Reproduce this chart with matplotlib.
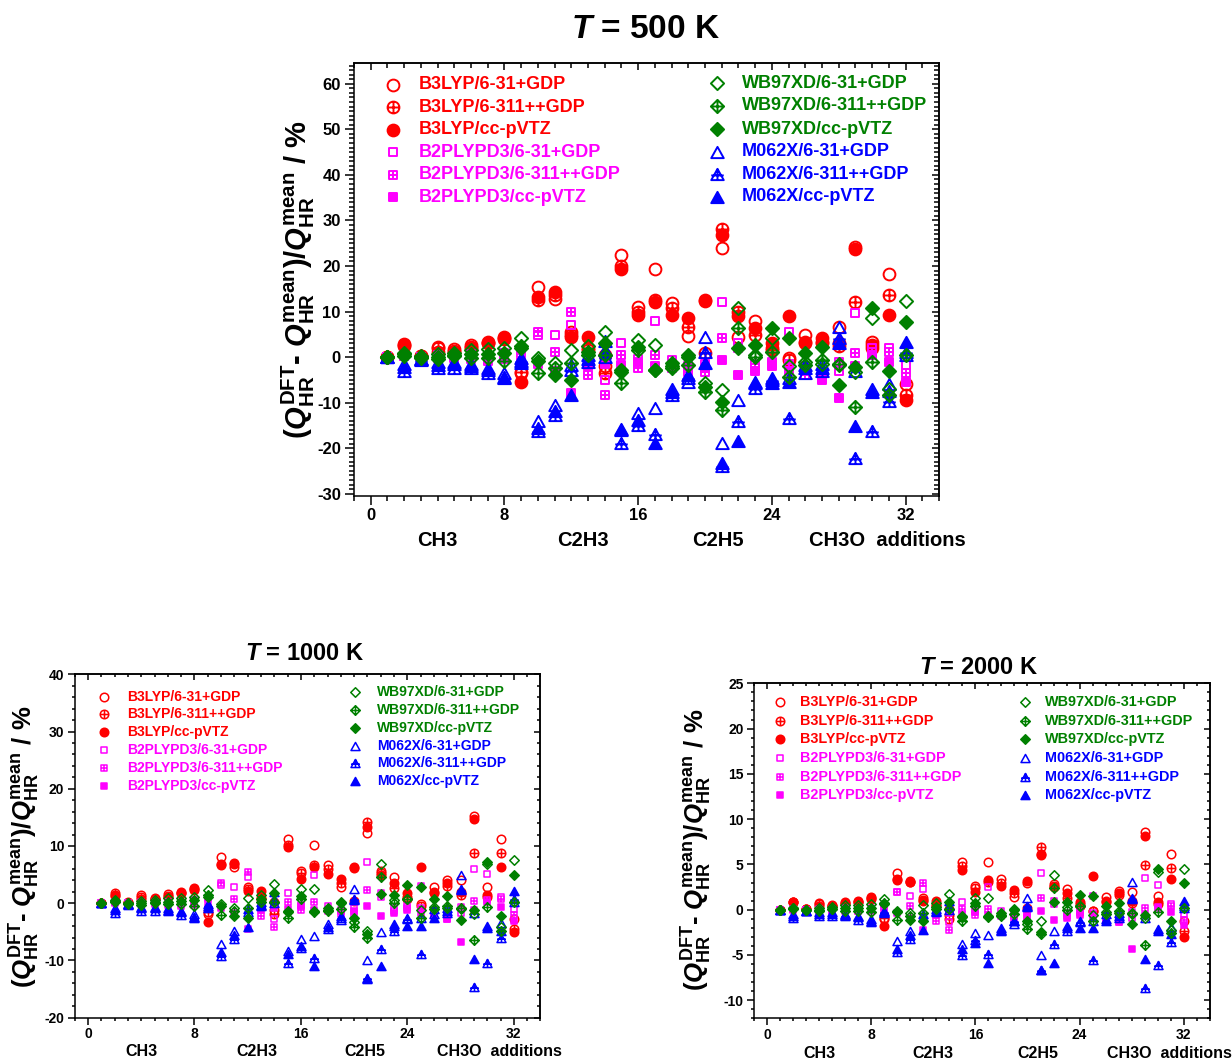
import matplotlib
matplotlib.use("Agg")
import matplotlib.pyplot as plt
from matplotlib.path import Path
from matplotlib.ticker import MultipleLocator
from matplotlib.transforms import blended_transform_factory

plt.rcParams['font.family'] = ['Liberation Sans', 'DejaVu Sans']
plt.rcParams['font.weight'] = 'bold'
plt.rcParams['axes.unicode_minus'] = False
plt.rcParams['mathtext.fontset'] = 'custom'
plt.rcParams['mathtext.rm'] = 'Liberation Sans:bold'
plt.rcParams['mathtext.it'] = 'Liberation Sans:italic:bold'
plt.rcParams['mathtext.bf'] = 'Liberation Sans:bold'

# ---------------------------------------------------------------- data
reactions = list(range(1, 33))
series_names = [
    'B3LYP/6-31+GDP', 'B3LYP/6-311++GDP', 'B3LYP/cc-pVTZ',
    'B2PLYPD3/6-31+GDP', 'B2PLYPD3/6-311++GDP', 'B2PLYPD3/cc-pVTZ',
    'WB97XD/6-31+GDP', 'WB97XD/6-311++GDP', 'WB97XD/cc-pVTZ',
    'M062X/6-31+GDP', 'M062X/6-311++GDP', 'M062X/cc-pVTZ',
]
group_labels = ['CH3', 'C2H3', 'C2H5', 'CH3O  additions']

# T = 500 K
t500_b3lyp_631 = [0, 2.4, 0.3, 2.3, 1.7, 2.7, 3.4, 4.5, -3.6, 15.4, 12.8, 5.5, 1.5, -2.0, 22.3, 11.0, 19.4, 11.8, 4.7, 12.2, 23.9, 4.5, 7.9, 2.0, -0.3, 4.8, 3.4, 6.6, 24.2, 3.4, 18.3, -6.0]
t500_b3lyp_6311 = [0, 2.8, 0.2, 1.9, 1.4, 2.2, 3.0, 4.0, -3.2, 12.5, 13.6, 4.8, 1.9, -3.6, 20.0, 10.0, 12.5, 10.8, 6.6, 0.8, 28.1, 9.9, 4.8, 1.5, -0.7, 3.0, 3.0, 2.5, 12.1, 2.0, 13.7, -8.3]
t500_b3lyp_cc = [0, 2.6, 0.2, 1.2, 1.2, 1.9, 3.1, 4.2, -5.4, 13.2, 14.3, 4.5, 4.5, 0.4, 19.4, 9.3, 12.1, 9.3, 8.5, 12.5, 26.7, 9.0, 6.3, 3.0, 9.1, 3.4, 4.1, 3.0, 23.8, 2.6, 9.2, -9.4]
t500_b2plyp_631 = [0, 0.5, 0.1, 0.5, 0.4, 0.6, 0.3, 0.8, 1.5, 4.8, 4.8, 7.0, -1.5, -5.0, 3.0, -0.5, 7.9, -0.7, -2.5, -1.5, 12.1, 3.0, -1.5, -1.5, 5.5, -3.0, -3.2, -3.0, 9.6, 1.9, 1.9, -1.7]
t500_b2plyp_6311 = [0, 0.2, 0.0, 0.1, 0.0, 0.1, -0.4, 0.0, 0.8, 5.5, 1.2, 9.9, -4.0, -8.3, 0.4, -2.5, 0.4, -2.0, -3.2, -3.2, 4.1, 2.0, -2.5, -1.0, -1.5, -4.0, -4.7, -1.0, 0.8, 1.0, 1.2, -3.5]
t500_b2plyp_cc = [0, 0.3, 0.0, -0.2, -0.2, -0.5, -0.8, -0.5, -1.0, -1.5, -3.0, -8.0, -2.0, -1.5, -1.8, -1.0, -2.0, -2.5, -2.0, -2.5, -0.7, -3.9, -3.0, -2.0, -3.0, -2.0, -5.0, -9.1, -2.0, 0.5, -1.0, -5.5]
t500_wb97xd_631 = [0, 0.8, 0.2, 0.6, 0.9, 1.6, 1.8, 1.9, 4.1, -0.3, -1.4, 1.5, 2.5, 5.5, -3.2, 3.7, 2.6, -2.0, 0.0, -5.8, -7.2, 10.8, 0.4, 4.1, -2.0, -1.0, -1.5, -1.8, -3.2, 8.5, -7.0, 12.2]
t500_wb97xd_6311 = [0, 0.3, -0.2, -0.5, 0.2, -0.2, -0.3, -0.8, 2.4, -3.6, -2.4, -1.4, 0.5, 0.4, -5.8, 1.5, -2.8, -2.5, -1.8, -7.6, -11.6, 6.4, 0.0, 1.2, -4.3, -1.8, -0.7, -1.5, -10.9, -1.0, -8.3, 0.5]
t500_wb97xd_cc = [0, 0.6, 0.1, 0.0, 0.4, 0.6, 0.7, 0.8, 1.9, -0.8, -3.9, -5.0, 1.2, 3.0, -2.8, 2.3, -2.8, -1.4, 0.4, -6.6, -9.8, 2.0, 2.6, 6.3, 4.1, 0.8, 2.3, -6.1, -2.1, 10.7, -3.1, 7.8]
t500_m062x_631 = [0, -1.5, -0.4, -1.0, -1.1, -1.6, -2.4, -3.4, -0.2, -14.1, -10.5, -1.8, 0.5, 3.5, -15.8, -12.3, -11.2, -7.0, -5.4, 4.5, -18.9, -9.4, -5.4, -4.5, -4.5, -3.5, -1.5, 6.6, -3.0, -7.0, -6.0, 0.5]
t500_m062x_6311 = [0, -3.0, -0.6, -2.4, -2.3, -2.4, -3.6, -4.6, -0.9, -16.3, -12.7, -2.8, -1.0, 0.0, -18.9, -14.9, -17.0, -8.3, -4.7, 1.2, -24.0, -14.1, -6.9, -5.0, -13.4, -1.8, -3.0, 4.1, -22.1, -16.3, -9.7, 1.2]
t500_m062x_cc = [0, -2.2, -0.4, -1.7, -1.5, -2.0, -2.8, -4.3, -1.4, -15.6, -11.8, -8.3, -0.5, 1.5, -16.0, -13.8, -18.9, -7.6, -4.0, -1.4, -23.2, -18.5, -5.8, -5.8, -5.4, -2.5, -2.5, 3.0, -15.2, -7.6, -7.5, 3.4]

# T = 1000 K
t1000_b3lyp_631 = [0, 1.5, 0.2, 1.4, 1.0, 1.6, 2.0, 2.7, -1.8, 8.1, 6.4, 2.8, 0.8, -1.1, 11.3, 5.7, 10.1, 6.6, 2.8, 6.2, 12.2, 5.7, 4.6, 1.1, -0.2, 2.8, 4.1, 4.0, 15.2, 2.8, 11.3, -2.7]
t1000_b3lyp_6311 = [0, 1.7, 0.1, 1.1, 0.8, 1.3, 1.7, 2.3, -1.6, 6.6, 6.8, 2.4, 1.0, -1.9, 10.2, 5.2, 6.6, 5.9, 3.6, 0.4, 14.2, 5.3, 2.6, 0.8, -0.4, 1.7, 3.0, 1.4, 8.7, 1.1, 8.7, -4.5]
t1000_b3lyp_cc = [0, 1.2, 0.1, 0.7, 0.7, 1.1, 1.8, 2.5, -3.2, 6.9, 7.0, 2.2, 2.2, 0.2, 9.8, 4.3, 6.3, 5.1, 4.3, 6.3, 13.3, 5.0, 3.5, 1.7, 6.3, 1.9, 3.5, 2.0, 14.8, 1.5, 6.3, -5.1]
t1000_b2plyp_631 = [0, 0.3, 0.0, 0.3, 0.2, 0.3, 0.2, 0.5, 0.9, 3.1, 2.8, 4.6, -0.8, -2.7, 1.8, -0.3, 4.9, -0.4, -1.4, -0.8, 7.2, 1.8, -0.8, -0.8, 3.0, -1.7, -1.8, -1.7, 6.0, 5.1, 1.1, -1.0]
t1000_b2plyp_6311 = [0, 0.1, 0.0, 0.0, 0.0, 0.0, -0.2, 0.0, 0.5, 3.5, 0.7, 5.4, -2.3, -4.2, 0.2, -1.2, 0.2, -1.1, -1.8, -1.8, 2.3, 1.1, -1.4, -0.5, -0.8, -2.2, -2.7, -0.6, 0.4, 0.6, 0.7, -2.0]
t1000_b2plyp_cc = [0, 0.2, 0.0, -0.1, -0.1, -0.3, -0.5, -0.3, -0.6, -0.8, -1.7, -4.5, -1.1, -0.8, -1.0, -0.5, -1.1, -1.4, -1.1, -1.4, -0.4, -2.2, -1.7, -1.1, -1.7, -1.1, -2.8, -6.8, -1.1, 0.3, -0.6, -3.1]
t1000_wb97xd_631 = [0, 0.5, 0.1, 0.4, 0.5, 0.9, 1.0, 1.1, 2.3, -0.2, -0.8, 0.9, 1.4, 3.4, -1.6, 2.5, 2.5, -1.1, 0.0, -3.2, -4.8, 6.9, 0.5, 0.8, -1.1, -0.6, -0.8, -1.0, -1.8, 6.9, -4.2, 7.5]
t1000_wb97xd_6311 = [0, 0.2, -0.1, -0.3, 0.1, -0.1, -0.2, -0.5, 1.4, -2.0, -1.4, -0.8, 0.3, 0.2, -2.5, 0.8, -1.5, -1.4, -1.0, -4.1, -6.0, 4.6, 0.0, 0.7, -2.5, -1.0, -0.4, -0.8, -6.5, -0.6, -4.8, 0.3]
t1000_wb97xd_cc = [0, 0.4, 0.0, 0.0, 0.2, 0.3, 0.4, 0.5, 1.1, -0.5, -2.2, -2.5, 0.7, 1.7, -1.4, 1.3, -1.3, -0.8, 0.2, -2.5, -5.4, 1.6, 1.5, 3.1, 2.8, 0.8, 1.3, -3.0, -1.2, 7.2, -2.2, 4.9]
t1000_m062x_631 = [0, -0.8, -0.2, -0.6, -0.6, -0.9, -1.3, -1.9, -0.1, -7.1, -4.8, -1.0, 0.3, 1.9, -8.3, -6.3, -5.7, -3.7, -3.0, 2.5, -10.0, -5.1, -3.6, -2.5, -2.5, -1.9, -0.8, 4.9, -1.7, -3.9, -3.4, 0.3]
t1000_m062x_6311 = [0, -1.7, -0.3, -1.3, -1.3, -1.3, -2.0, -2.6, -0.5, -9.2, -6.3, -1.6, -0.5, 0.0, -10.4, -7.9, -9.5, -4.5, -2.6, 0.7, -13.0, -8.0, -4.8, -2.8, -8.9, -1.0, -1.7, 2.3, -14.7, -10.4, -6.0, 0.7]
t1000_m062x_cc = [0, -1.2, -0.2, -0.9, -0.8, -1.1, -1.6, -2.4, -0.8, -8.6, -5.6, -4.2, -0.3, 0.8, -8.8, -7.4, -10.9, -4.2, -2.2, 0.5, -13.3, -10.9, -3.9, -3.9, -3.9, -2.5, -1.4, 2.5, -9.8, -4.3, -4.8, 2.2]

# T = 2000 K
t2000_b3lyp_631 = [0, 0.8, 0.1, 0.7, 0.5, 0.8, 1.0, 1.4, -1.0, 4.0, 3.1, 1.3, 0.4, -0.6, 5.3, 2.6, 5.3, 3.4, 1.4, 3.0, 6.0, 2.8, 2.3, 0.6, -0.1, 1.4, 2.1, 2.0, 8.6, 1.5, 6.2, -1.3]
t2000_b3lyp_6311 = [0, 0.9, 0.1, 0.6, 0.4, 0.7, 0.9, 1.2, -0.9, 3.4, 3.2, 1.1, 0.5, -1.0, 4.8, 2.4, 3.1, 3.0, 1.8, 0.2, 6.9, 2.6, 1.3, 0.4, -0.2, 0.9, 1.6, 0.7, 4.9, 0.6, 4.6, -2.4]
t2000_b3lyp_cc = [0, 0.8, 0.1, 0.4, 0.4, 0.6, 0.9, 1.3, -1.8, 3.3, 3.1, 1.0, 1.0, 0.1, 4.4, 2.0, 3.3, 2.6, 2.2, 3.2, 6.2, 2.5, 1.8, 0.9, 3.7, 1.0, 1.8, 1.0, 8.1, 0.8, 3.4, -3.0]
t2000_b2plyp_631 = [0, 0.1, 0.0, 0.1, 0.1, 0.2, 0.1, 0.2, 0.5, 1.9, 1.5, 2.3, -0.4, -1.4, 0.9, -0.2, 2.5, -0.2, -0.7, -0.4, 4.0, 1.0, -0.4, -0.4, 1.5, -0.9, -0.9, -0.9, 3.5, 2.7, 0.6, -0.5]
t2000_b2plyp_6311 = [0, 0.0, 0.0, 0.0, 0.0, 0.0, -0.1, 0.0, 0.3, 2.0, 0.4, 2.9, -1.2, -2.2, 0.1, -0.6, 0.1, -0.6, -0.9, -0.9, 1.3, 0.6, -0.7, -0.3, -0.4, -1.1, -1.4, -0.3, 0.2, 0.3, 0.4, -1.1]
t2000_b2plyp_cc = [0, 0.1, 0.0, -0.1, -0.1, -0.2, -0.2, -0.2, -0.3, -0.4, -0.9, -2.2, -0.6, -0.4, -0.5, -0.3, -0.6, -0.7, -0.6, -0.7, -0.2, -1.1, -0.9, -0.6, -0.9, -0.6, -1.4, -4.3, -0.6, 0.2, -0.3, -1.7]
t2000_wb97xd_631 = [0, 0.2, 0.0, 0.2, 0.3, 0.5, 0.5, 0.6, 1.2, -0.1, -0.4, 0.5, 0.7, 1.7, -0.8, 1.3, 1.3, -0.6, 0.0, -1.6, -1.3, 3.8, 0.3, 0.4, -0.6, -0.3, -0.4, -0.5, -0.9, 4.2, -2.2, 4.5]
t2000_wb97xd_6311 = [0, 0.1, 0.0, -0.2, 0.1, -0.1, -0.1, -0.3, 0.7, -1.1, -0.7, -0.4, 0.1, 0.1, -1.3, 0.4, -0.8, -0.7, -0.5, -2.1, -2.7, 2.4, 0.0, 0.4, -1.3, -0.5, -0.2, -0.4, -3.9, -0.3, -2.6, 0.2]
t2000_wb97xd_cc = [0, 0.2, 0.0, 0.0, 0.1, 0.2, 0.2, 0.2, 0.6, -0.3, -1.1, -1.3, 0.3, 0.8, -0.7, 0.7, -0.7, -0.4, 0.1, -1.3, -2.5, 0.8, 0.8, 1.6, 1.5, 0.4, 0.7, -1.6, -0.6, 4.5, -1.2, 2.9]
t2000_m062x_631 = [0, -0.5, -0.1, -0.3, -0.3, -0.5, -0.7, -1.0, -0.1, -3.5, -2.3, -0.5, 0.1, 1.0, -3.8, -2.6, -2.8, -2.0, -1.6, 1.3, -5.0, -2.3, -1.8, -1.3, -1.3, -1.0, -0.4, 3.1, -0.9, -2.1, -1.9, 0.2]
t2000_m062x_6311 = [0, -0.9, -0.2, -0.7, -0.7, -0.7, -1.1, -1.4, -0.3, -4.7, -3.2, -0.8, -0.3, 0.0, -5.0, -3.4, -4.9, -2.4, -1.3, 0.4, -6.7, -3.8, -2.4, -1.4, -5.6, -0.5, -0.9, 1.2, -8.7, -6.1, -3.6, 0.4]
t2000_m062x_cc = [0, -0.7, -0.1, -0.5, -0.5, -0.6, -0.8, -1.3, -0.4, -4.3, -2.8, -2.2, -0.2, 0.4, -4.3, -3.7, -5.9, -2.2, -1.2, 0.3, -6.7, -5.9, -2.0, -2.0, -2.0, -1.3, -0.7, 1.3, -5.4, -2.3, -2.7, 1.0]

t500_series = [t500_b3lyp_631, t500_b3lyp_6311, t500_b3lyp_cc,
               t500_b2plyp_631, t500_b2plyp_6311, t500_b2plyp_cc,
               t500_wb97xd_631, t500_wb97xd_6311, t500_wb97xd_cc,
               t500_m062x_631, t500_m062x_6311, t500_m062x_cc]
t1000_series = [t1000_b3lyp_631, t1000_b3lyp_6311, t1000_b3lyp_cc,
                t1000_b2plyp_631, t1000_b2plyp_6311, t1000_b2plyp_cc,
                t1000_wb97xd_631, t1000_wb97xd_6311, t1000_wb97xd_cc,
                t1000_m062x_631, t1000_m062x_6311, t1000_m062x_cc]
t2000_series = [t2000_b3lyp_631, t2000_b3lyp_6311, t2000_b3lyp_cc,
                t2000_b2plyp_631, t2000_b2plyp_6311, t2000_b2plyp_cc,
                t2000_wb97xd_631, t2000_wb97xd_6311, t2000_wb97xd_cc,
                t2000_m062x_631, t2000_m062x_6311, t2000_m062x_cc]

# ---------------------------------------------------------------- marker shapes
M, L, C = Path.MOVETO, Path.LINETO, Path.CLOSEPOLY
cross = Path([(-1, 0), (1, 0), (0, -1), (0, 1)], [M, L, M, L])
circle = Path.unit_circle()
square = Path([(-1, -1), (1, -1), (1, 1), (-1, 1), (-1, -1)], [M, L, L, L, C])
diamond = Path([(0, 1), (1, 0), (0, -1), (-1, 0), (0, 1)], [M, L, L, L, C])
triangle = Path([(0, 0.9), (-1, -0.9), (1, -0.9), (0, 0.9)], [M, L, L, C])
tri_lines = Path([(0, 0.9), (0, -1.0), (-1.0, -0.15), (1.0, -0.15)], [M, L, M, L])

shapes = {
    'circle': (circle, Path.make_compound_path(circle, cross)),
    'square': (square, Path.make_compound_path(square, cross)),
    'diamond': (diamond, Path.make_compound_path(diamond, cross)),
    'triangle': (triangle, Path.make_compound_path(triangle, tri_lines)),
}
group_shape = ['circle', 'square', 'diamond', 'triangle']
group_color = ['#FF0000', '#FF00FF', '#008000', '#0000FF']
base_size = {'circle': 8.5, 'square': 6.3, 'diamond': 9.5, 'triangle': 9.0}
draw_order = [0, 1, 2, 3, 4, 5, 9, 10, 11, 6, 7, 8]


def series_style(i):
    g, variant = divmod(i, 3)   # variant: 0 open, 1 crossed, 2 filled
    shape = group_shape[g]
    plain, crossed = shapes[shape]
    marker = crossed if variant == 1 else plain
    face = group_color[g] if variant == 2 else 'none'
    return marker, face, group_color[g], base_size[shape]


def plot_marker(ax, x, y, i, scale, mew, **kw):
    marker, face, col, size = series_style(i)
    ax.plot(x, y, linestyle='none', marker=marker, markersize=size * scale,
            markerfacecolor=face, markeredgecolor=col, markeredgewidth=mew, **kw)


def make_panel(fig, rect, series, ylim, ymajor, yminor, scale, mew, tick_fs,
               leg_fs, leg_marker_x, leg_text_x, leg_rows, group_fs, group_y,
               tick_len, xpad, ypad):
    ax = fig.add_axes(rect)
    for i in draw_order:
        plot_marker(ax, reactions, series[i], i, scale, mew, zorder=3)
    ax.set_xlim(-1, 34)
    ax.set_ylim(*ylim)
    ax.xaxis.set_major_locator(MultipleLocator(8))
    ax.xaxis.set_minor_locator(MultipleLocator(1))
    ax.yaxis.set_major_locator(MultipleLocator(ymajor))
    ax.yaxis.set_minor_locator(MultipleLocator(yminor))
    for sp in ax.spines.values():
        sp.set_linewidth(1.1)
    ax.tick_params(which='both', direction='out', width=1.1, labelsize=tick_fs,
                   top=False, right=False)
    ax.tick_params(which='major', length=tick_len)
    ax.tick_params(which='minor', length=tick_len * 0.5)
    ax.tick_params(axis='x', which='major', pad=xpad)
    ax.tick_params(axis='y', which='major', pad=ypad)
    # mirrored ticks on the top and right spines point inward
    secx = ax.secondary_xaxis('top')
    secx.xaxis.set_major_locator(MultipleLocator(8))
    secx.xaxis.set_minor_locator(MultipleLocator(1))
    secx.tick_params(which='both', direction='in', width=1.1, labeltop=False,
                     labelbottom=False)
    secx.tick_params(which='major', length=tick_len * 0.8)
    secx.tick_params(which='minor', length=tick_len * 0.5)
    secx.spines['top'].set_linewidth(1.1)
    secy = ax.secondary_yaxis('right')
    secy.yaxis.set_major_locator(MultipleLocator(ymajor))
    secy.yaxis.set_minor_locator(MultipleLocator(yminor))
    secy.tick_params(which='both', direction='in', width=1.1, labelright=False,
                     labelleft=False)
    secy.tick_params(which='major', length=tick_len * 0.8)
    secy.tick_params(which='minor', length=tick_len * 0.5)
    secy.spines['right'].set_linewidth(1.1)

    # legend drawn as marker + coloured label pairs in two columns
    for i, name in enumerate(series_names):
        col, row = divmod(i, 6)
        y = leg_rows[col][row]
        plot_marker(ax, [leg_marker_x[col]], [y], i, scale, mew,
                    transform=ax.transAxes, clip_on=False, zorder=4)
        ax.text(leg_text_x[col], y, name, transform=ax.transAxes,
                color=group_color[i // 3], fontsize=leg_fs, fontweight='bold',
                ha='left', va='center')

    trans = blended_transform_factory(ax.transData, ax.transAxes)
    for xc, lab in zip([4.0, 12.7, 20.8, 30.9], group_labels):
        ax.text(xc, group_y, lab, transform=trans, ha='center', va='center',
                fontsize=group_fs, fontweight='bold')
    return ax


ylabel = (r'$(Q_{\mathrm{HR}}^{\mathrm{DFT}}$- $Q_{\mathrm{HR}}^{\mathrm{mean}})'
          r'/Q_{\mathrm{HR}}^{\mathrm{mean}}$ / %')

fig = plt.figure(figsize=(12.32, 10.62), dpi=100)

# T = 500 K
make_panel(fig, [0.2873, 0.5330, 0.4749, 0.4074], t500_series, (-30.5, 64.5),
           10, 1, 1.0, 1.4, 12, 13,
           leg_marker_x=[0.067, 0.620], leg_text_x=[0.110, 0.663],
           leg_rows=[[0.950, 0.898, 0.846, 0.794, 0.742, 0.690],
                     [0.954, 0.902, 0.848, 0.796, 0.744, 0.692]],
           group_fs=14.5, group_y=-0.102, tick_len=6.5, xpad=2, ypad=3)
fig.text(0.5244, 0.9718, r'$T$ = 500 K', ha='center', va='center',
         fontsize=24, fontweight='bold')
fig.text(0.2420, 0.7366, ylabel, rotation=90, ha='center', va='center',
         fontsize=21, fontweight='bold')

# T = 1000 K
make_panel(fig, [0.0606, 0.0417, 0.3781, 0.3234], t1000_series, (-20, 40),
           10, 2, 0.72, 1.1, 10, 10,
           leg_marker_x=[0.064, 0.602], leg_text_x=[0.112, 0.650],
           leg_rows=[[0.935, 0.885, 0.831, 0.780, 0.728, 0.676],
                     [0.948, 0.896, 0.843, 0.791, 0.741, 0.688]],
           group_fs=11.5, group_y=-0.099, tick_len=5, xpad=2, ypad=2.5)
fig.text(0.2476, 0.3842, r'$T$ = 1000 K', ha='center', va='center',
         fontsize=17, fontweight='bold')
fig.text(0.0200, 0.2027, ylabel, rotation=90, ha='center', va='center',
         fontsize=18.5, fontweight='bold')

# T = 2000 K
make_panel(fig, [0.612, 0.0411, 0.370, 0.3155], t2000_series, (-12, 25),
           5, 1, 0.72, 1.1, 10, 10.4,
           leg_marker_x=[0.057, 0.594], leg_text_x=[0.100, 0.638],
           leg_rows=[[0.943, 0.887, 0.833, 0.778, 0.721, 0.666],
                     [0.943, 0.887, 0.833, 0.778, 0.721, 0.666]],
           group_fs=11.5, group_y=-0.104, tick_len=5, xpad=2, ypad=2.5)
fig.text(0.7946, 0.3710, r'$T$ = 2000 K', ha='center', va='center',
         fontsize=17, fontweight='bold')
fig.text(0.566, 0.1996, ylabel, rotation=90, ha='center', va='center',
         fontsize=18.5, fontweight='bold')

fig.savefig('out.png', dpi=100)
